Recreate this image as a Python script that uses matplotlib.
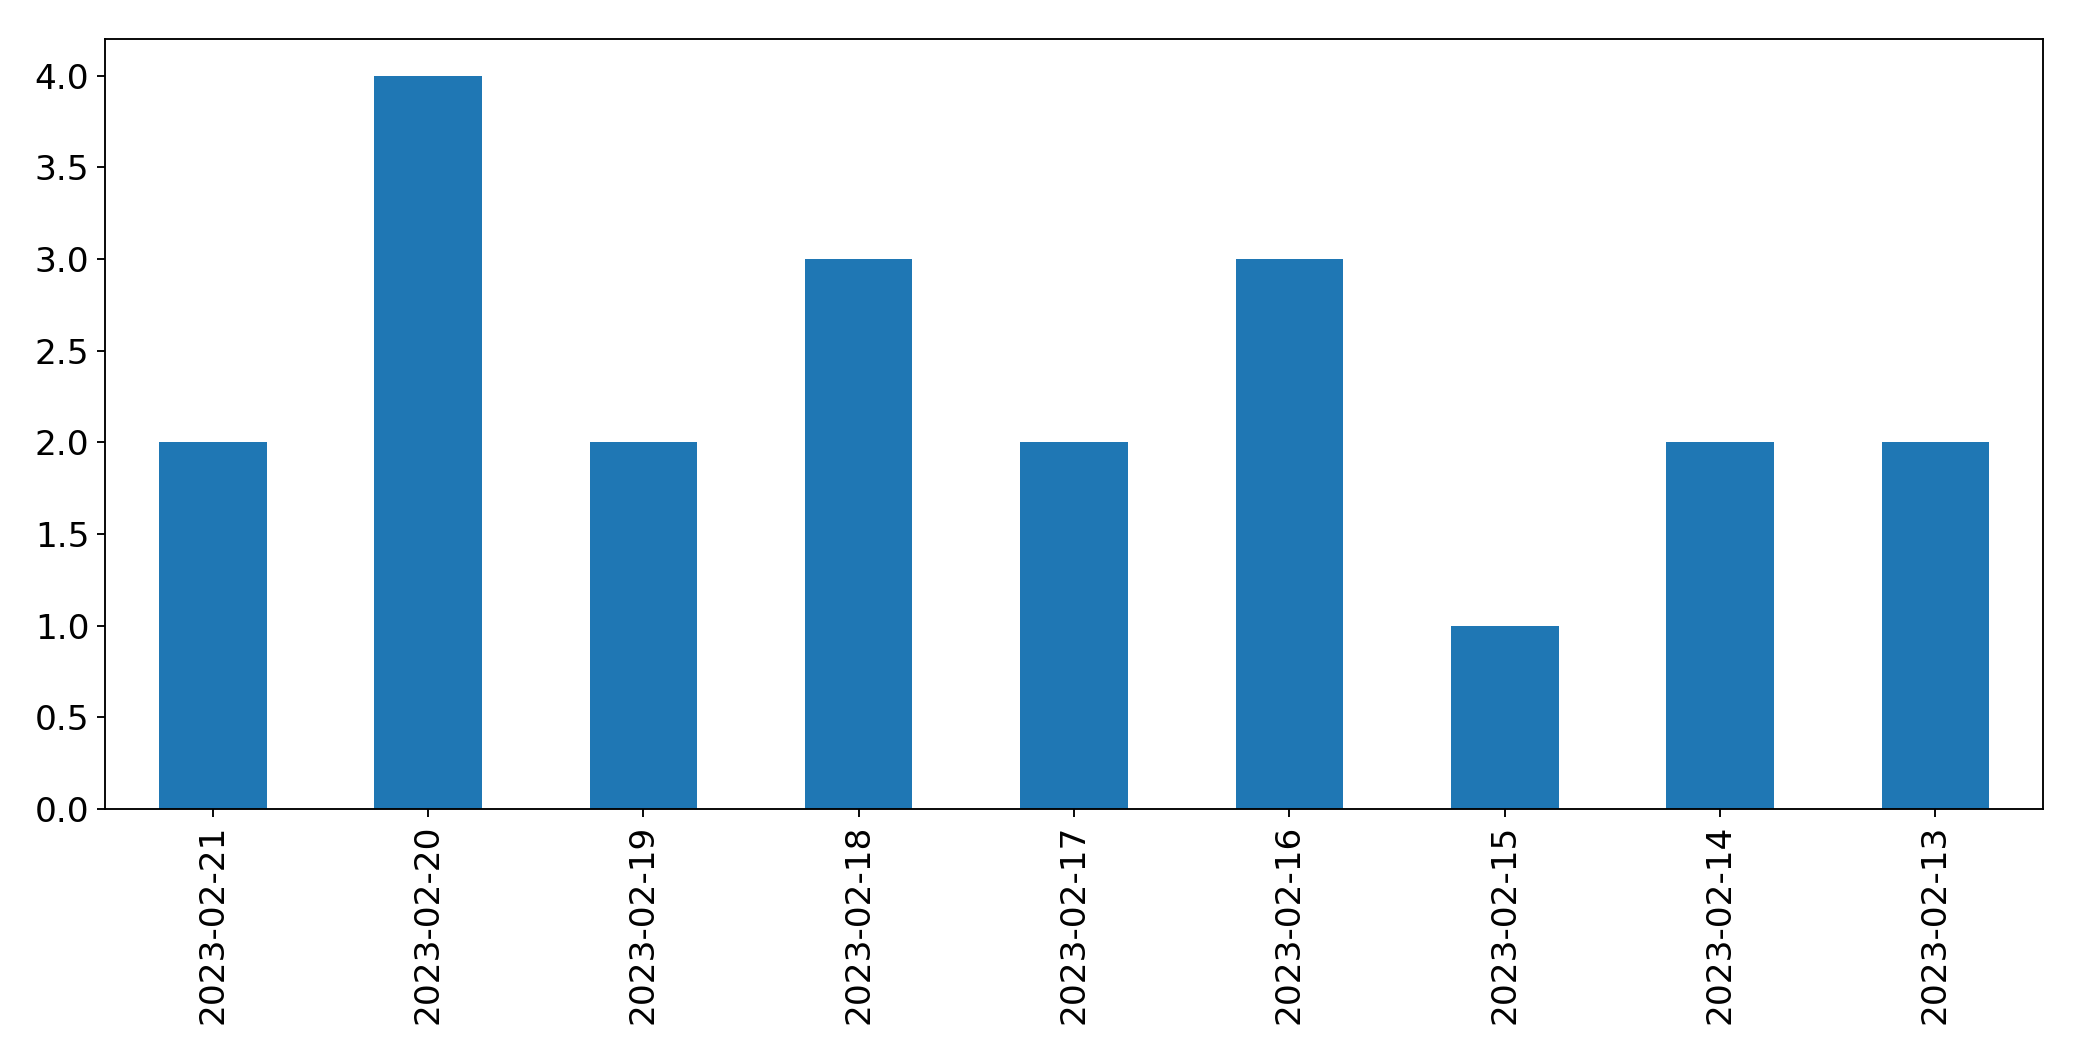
import matplotlib
matplotlib.use("Agg")
import matplotlib.pyplot as plt
import pandas as pd

# counts per day, newest first
dates = ["2023-02-21", "2023-02-20", "2023-02-19", "2023-02-18", "2023-02-17",
         "2023-02-16", "2023-02-15", "2023-02-14", "2023-02-13"]
counts = [2, 4, 2, 3, 2, 3, 1, 2, 2]

s = pd.Series(counts, index=dates)

plt.rcParams["font.size"] = 16.5
plt.rcParams["axes.linewidth"] = 0.9
plt.rcParams["xtick.major.width"] = 0.9
plt.rcParams["ytick.major.width"] = 0.9
plt.rcParams["xtick.major.size"] = 4
plt.rcParams["ytick.major.size"] = 4

fig = plt.figure(figsize=(2082 / 150, 1061 / 150), dpi=150)
ax = fig.add_subplot(111)
s.plot(kind="bar", ax=ax, color="#1f77b4")
ax.tick_params(axis="x", labelrotation=90)

fig.subplots_adjust(left=105 / 2082, right=2043 / 2082,
                    top=1 - 39 / 1061, bottom=1 - 809 / 1061)
fig.savefig("out.png", dpi=150)
